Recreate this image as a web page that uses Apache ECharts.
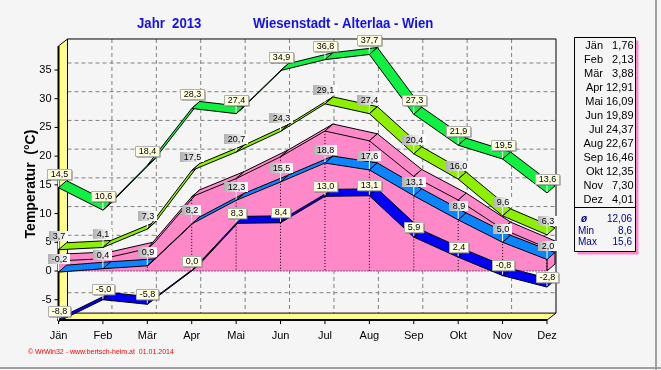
<!DOCTYPE html>
<html><head><meta charset="utf-8">
<script src="https://cdn.jsdelivr.net/npm/echarts@6/dist/echarts.min.js"></script>
<style>html,body{margin:0;padding:0;background:#f5f5f5;}#c{width:661px;height:370px;}</style>
</head><body><div id="c"></div>
<script>
// ---- data ----
const months = ['Jän','Feb','Mär','Apr','Mai','Jun','Jul','Aug','Sep','Okt','Nov','Dez'];
const absMax = [14.5,10.6,18.4,28.3,27.4,34.9,36.8,37.7,27.3,21.9,19.5,13.6];
const meanMax = [3.7,4.1,7.3,17.5,20.7,24.3,29.1,27.4,20.4,16.0,9.6,6.3];
const meanTemp = [1.76,2.13,3.88,12.91,16.09,19.89,24.37,22.67,16.46,12.35,7.30,4.01];
const meanMin = [-0.2,0.4,0.9,8.2,12.3,15.5,18.8,17.6,13.1,8.9,5.0,2.0];
const absMin = [-8.8,-5.0,-5.8,0.0,8.3,8.4,13.0,13.1,5.9,2.4,-0.8,-2.8];
const yTicks = [-5,0,5,10,15,20,25,30,35];
const statLabels = ['ø','Min','Max'];
const statValues = ['12,06','8,6','15,6'];
const titleYear = 'Jahr  2013';
const titleStation = 'Wiesenstadt - Alterlaa - Wien';

// ---- layout constants ----
const FLOOR = -8.55, TOP = 39.18;
const WDX = 9, WDY = -7;   // wall depth
const RDX = 8, RDY = -7;   // ribbon depth
const FONT = 'Arial, "Liberation Sans", sans-serif';
const mctx = document.createElement('canvas').getContext('2d');
function tw(t, f){ mctx.font = f; return mctx.measureText(t).width; }
const fmt1 = v => v.toFixed(1).replace('.', ',');

const chart = echarts.init(document.getElementById('c'), null, {renderer:'canvas'});

function decoRender(params, api){
  const c = [];
  const x0 = api.coord([0, FLOOR])[0], x11 = api.coord([11, FLOOR])[0];
  const yF = api.coord([0, FLOOR])[1], yT = api.coord([0, TOP])[1];
  const dash = {stroke:'#808080', lineWidth:1, lineDash:[4,3]};
  yTicks.forEach(v => {
    const y = api.coord([0, v])[1] + WDY;
    c.push({type:'line', shape:{x1:x0+WDX, y1:y, x2:x11+WDX, y2:y}, style:dash});
  });
  for (let i = 1; i < 11; i++){
    const x = api.coord([i, 0])[0] + WDX;
    c.push({type:'line', shape:{x1:x, y1:yT+WDY, x2:x, y2:yF+WDY}, style:dash});
  }
  c.push({type:'polyline', shape:{points:[[x0+WDX, yT+WDY],[x11+WDX, yT+WDY],[x11+WDX, yF+WDY]]}, style:{stroke:'#000', lineWidth:1, fill:null}});
  c.push({type:'polygon', shape:{points:[[x0,yT],[x0+WDX,yT+WDY],[x0+WDX,yF+WDY],[x0,yF]]}, style:{fill:'#ffff88', stroke:'#000', lineWidth:1}});
  c.push({type:'polygon', shape:{points:[[x0,yF],[x11,yF],[x11+WDX,yF+WDY],[x0+WDX,yF+WDY]]}, style:{fill:'#ffff88', stroke:'#000', lineWidth:1}});
  c.push({type:'line', shape:{x1:x0, y1:yT, x2:x0, y2:yF+1}, style:{stroke:'#000', lineWidth:2}});
  c.push({type:'line', shape:{x1:x0-1, y1:yF, x2:x11, y2:yF}, style:{stroke:'#000', lineWidth:2}});
  yTicks.forEach(v => {
    const y = api.coord([0, v])[1];
    c.push({type:'line', shape:{x1:x0-4, y1:y, x2:x0, y2:y}, style:{stroke:'#000', lineWidth:1}});
  });
  for (let i = 0; i < 12; i++){
    const x = api.coord([i, 0])[0];
    c.push({type:'line', shape:{x1:x, y1:yF, x2:x, y2:yF+4}, style:{stroke:'#000', lineWidth:1}});
  }
  return {type:'group', children:c};
}

function ribbon(values, color){
  const data = values.slice(0, -1).map((v, i) => [i, v, values[i+1]]);
  return {type:'custom', data, encode:{x:0, y:[1,2]}, clip:false,
    renderItem:(p, api) => {
      const i = api.value(0);
      const a = api.coord([i, api.value(1)]), b = api.coord([i+1, api.value(2)]);
      return {type:'polygon', shape:{points:[a, b, [b[0]+RDX, b[1]+RDY], [a[0]+RDX, a[1]+RDY]]},
        style:{fill:color, stroke:'#000', lineWidth:1}};
    }};
}

function pinkRender(params, api){
  const c = [];
  const pts = meanTemp.map((v, i) => api.coord([i, v]));
  const base = meanTemp.map((v, i) => api.coord([i, 0]));
  const pink = '#ff88c8';
  c.push({type:'polygon', shape:{points:[base[0], ...pts, base[11]]}, style:{fill:pink, stroke:null}});
  for (let i = 0; i < 11; i++){
    const a = pts[i], b = pts[i+1];
    c.push({type:'polygon', shape:{points:[a, b, [b[0]+RDX, b[1]+RDY], [a[0]+RDX, a[1]+RDY]]}, style:{fill:pink, stroke:'#000', lineWidth:1}});
  }
  const e = pts[11], eb = base[11];
  c.push({type:'polygon', shape:{points:[eb, e, [e[0]+RDX, e[1]+RDY], [eb[0]+RDX, eb[1]+RDY]]}, style:{fill:pink, stroke:'#000', lineWidth:1}});
  for (let i = 0; i < 12; i++){
    c.push({type:'line', shape:{x1:pts[i][0], y1:pts[i][1], x2:base[i][0], y2:base[i][1]}, style:{stroke:'#000', lineWidth:1, lineDash:[1,2]}});
  }
  c.push({type:'line', shape:{x1:base[0][0], y1:base[0][1], x2:base[11][0], y2:base[11][1]}, style:{stroke:'#000', lineWidth:1, lineDash:[1,2]}});
  return {type:'group', children:c};
}

function labels(values, kind){
  const data = values.map((v, i) => [i, v]);
  return {type:'custom', data, encode:{x:0, y:1}, clip:false, z:5,
    renderItem:(p, api) => {
      const i = api.value(0), v = api.value(1);
      const pt = api.coord([i, v]);
      const t = fmt1(v);
      const f = '9px ' + FONT;
      const w = Math.round(tw(t, f) + 6), h = 10;
      const off = kind === 'low' ? 5.5 : (kind === 'cream' ? 9 : 8.5);
      const bx = Math.round(pt[0] - w/2), by = Math.round(pt[1] - off - h);
      const c = [];
      c.push({type:'line', shape:{x1:pt[0], y1:by+h, x2:pt[0], y2:pt[1]-1}, style:{stroke:'#ffffff', lineWidth:1}});
      if (kind === 'grey'){
        c.push({type:'rect', shape:{x:bx, y:by, width:w, height:h},
          style:{fill:{type:'linear', x:0, y:0, x2:1, y2:0, global:false,
            colorStops:[{offset:0,color:'#b0b0b0'},{offset:0.55,color:'#e4e4e4'},{offset:1,color:'#ffffff'}]}}});
      } else {
        c.push({type:'rect', shape:{x:bx+1.5, y:by+1.5, width:w, height:h}, style:{fill:'#707070'}});
        c.push({type:'rect', shape:{x:bx+0.5, y:by+0.5, width:w, height:h}, style:{fill:'#ffffe0', stroke:'#b0b0b0', lineWidth:1}});
      }
      c.push({type:'text', style:{text:t, x:bx + w/2 + 0.5, y:by + h/2 + 1, align:'center', verticalAlign:'middle', font:f, fill:'#000'}});
      return {type:'group', children:c};
    }};
}

const graphics = [];
graphics.push({type:'text', x:137, y:24.5, scaleX:0.94, style:{text:titleYear, font:'bold 14px ' + FONT, fill:'#1010f0', align:'left', verticalAlign:'middle'}});
graphics.push({type:'text', x:253, y:24.5, scaleX:0.94, style:{text:titleStation, font:'bold 14px ' + FONT, fill:'#1010f0', align:'left', verticalAlign:'middle'}});
graphics.push({type:'text', x:31, y:184, rotation:Math.PI/2, style:{text:'Temperatur  (°C)', font:'bold 14px ' + FONT, fill:'#000', align:'center', verticalAlign:'middle'}});
graphics.push({type:'rect', shape:{x:577.5, y:40.5, width:61, height:214}, style:{fill:'#ff88cc'}});
graphics.push({type:'rect', shape:{x:574.5, y:37.5, width:61, height:214}, style:{fill:'#f5f5f5', stroke:'#000', lineWidth:1}});
graphics.push({type:'line', shape:{x1:574.5, y1:207.5, x2:635.5, y2:207.5}, style:{stroke:'#000', lineWidth:1}});
months.forEach((m, i) => {
  graphics.push({type:'text', x:603, y:45.5 + 14*i, style:{text:m, font:'11px ' + FONT, fill:'#000', align:'right', verticalAlign:'middle'}});
  graphics.push({type:'text', x:633.5, y:45.5 + 14*i, style:{text:meanTemp[i].toFixed(2).replace('.', ','), font:'11px ' + FONT, fill:'#000', align:'right', verticalAlign:'middle'}});
});
statLabels.forEach((s, i) => {
  const y = [219, 231, 242.5][i];
  graphics.push({type:'text', x: i === 0 ? 581 : 578, y, style:{text:s, font:(i === 0 ? 'italic bold ' : '') + '10px ' + FONT, fill:'#000080', align:'left', verticalAlign:'middle'}});
  graphics.push({type:'text', x:632, y, style:{text:statValues[i], font:'10px ' + FONT, fill:'#000080', align:'right', verticalAlign:'middle'}});
});
graphics.push({type:'text', x:28, y:352, style:{text:'© WrWin32 - www.bertsch-heim.at  01.01.2014', font:'7px ' + FONT, fill:'#ff0000', align:'left', verticalAlign:'middle'}});
graphics.push({type:'line', shape:{x1:656, y1:0, x2:656, y2:370}, style:{stroke:'#a0a0a0', lineWidth:2}});
graphics.push({type:'line', shape:{x1:0, y1:368, x2:661, y2:368}, style:{stroke:'#a0a0a0', lineWidth:2}});

chart.setOption({
  animation:false,
  backgroundColor:'#f5f5f5',
  grid:{left:58.5, right:114, top:41.28, bottom:41.57, show:false},
  xAxis:{type:'category', data:months, boundaryGap:false,
    axisLine:{show:false}, axisTick:{show:false}, splitLine:{show:false},
    axisLabel:{interval:0, margin:2, fontSize:11, fontFamily:FONT, color:'#000'}},
  yAxis:{type:'value', min:-10, max:40, interval:5,
    axisLine:{show:false}, axisTick:{show:false}, splitLine:{show:false},
    axisLabel:{margin:7, fontSize:11, fontFamily:FONT, color:'#000',
      formatter:v => (v < -5 || v > 35) ? '' : String(v)}},
  graphic:graphics,
  series:[
    {type:'custom', data:[[0, 0]], encode:{x:0, y:1}, clip:false, renderItem:decoRender},
    ribbon(absMax, '#10f040'),
    ribbon(meanMax, '#8cf000'),
    {type:'custom', data:[[0, 0]], encode:{x:0, y:1}, clip:false, renderItem:pinkRender},
    ribbon(meanMin, '#0a84ff'),
    ribbon(absMin, '#0000f8'),
    labels(absMax, 'cream'),
    labels(meanMax, 'grey'),
    labels(meanMin, 'grey'),
    labels(absMin, 'low')
  ]
});
</script></body></html>
